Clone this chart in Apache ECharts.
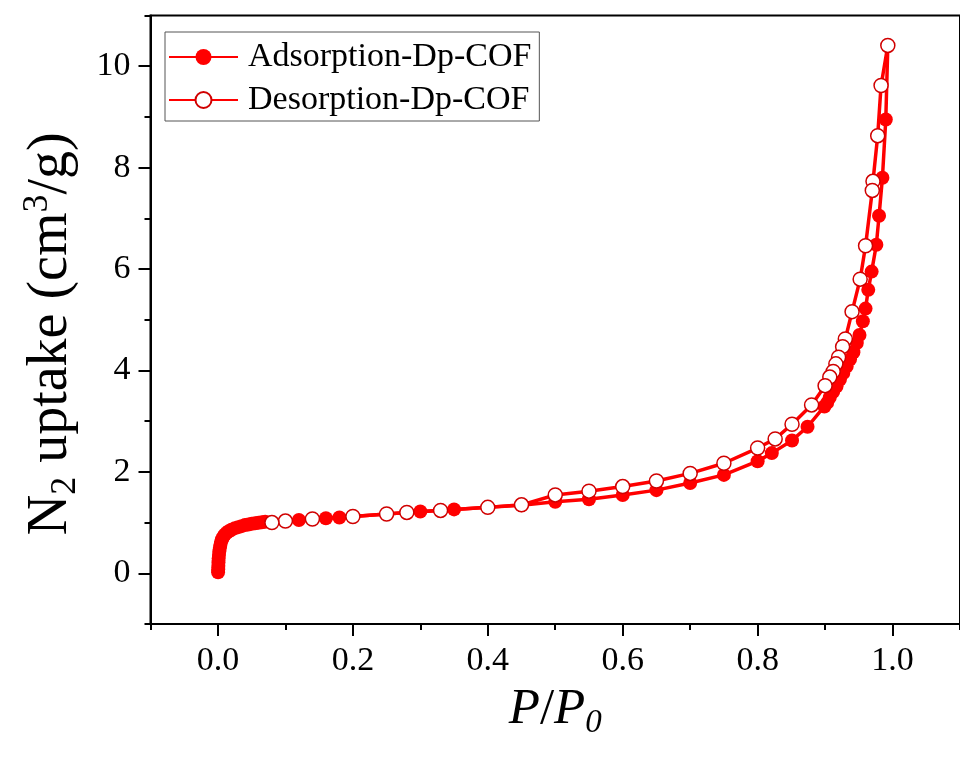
<!DOCTYPE html>
<html>
<head>
<meta charset="utf-8">
<script src="https://cdn.jsdelivr.net/npm/echarts@6/dist/echarts.min.js"></script>
<style>
html,body{margin:0;padding:0;background:#fff;}
#chart{width:960px;height:765px;}
</style>
</head>
<body>
<div id="chart"></div>
<script>
// ---- data ----
const adsX = [0.0002,0.0004,0.0006,0.0008,0.001,0.0015,0.002,0.0028,0.0036,0.0046,0.006,0.008,0.010,0.013,0.016,0.020,0.025,0.030,0.035,0.040,0.045,0.050,0.055,0.060,0.065,0.070,0.12,0.16,0.18,0.30,0.35,0.40,0.45,0.50,0.55,0.60,0.65,0.70,0.75,0.80,0.821,0.851,0.874,0.899,0.903,0.907,0.912,0.917,0.922,0.927,0.932,0.937,0.942,0.947,0.951,0.956,0.960,0.964,0.969,0.976,0.980,0.985,0.990,0.993];
const adsY = [0.02,0.08,0.15,0.22,0.29,0.36,0.43,0.50,0.56,0.62,0.67,0.72,0.76,0.80,0.83,0.86,0.89,0.91,0.93,0.95,0.96,0.975,0.985,0.995,1.005,1.015,1.05,1.085,1.10,1.22,1.26,1.30,1.34,1.41,1.46,1.545,1.64,1.78,1.94,2.21,2.37,2.62,2.89,3.29,3.36,3.47,3.58,3.69,3.82,3.95,4.08,4.22,4.36,4.54,4.70,4.97,5.22,5.59,5.95,6.48,7.05,7.80,8.95,10.41];
const desX = [0.993,0.983,0.978,0.971,0.970,0.960,0.952,0.940,0.930,0.926,0.920,0.916,0.912,0.907,0.900,0.880,0.851,0.826,0.800,0.750,0.700,0.650,0.600,0.550,0.500,0.450,0.400,0.330,0.280,0.250,0.200,0.140,0.100,0.080];
const desY = [10.41,9.62,8.63,7.73,7.55,6.46,5.80,5.16,4.62,4.47,4.26,4.13,3.98,3.87,3.70,3.32,2.94,2.65,2.47,2.17,1.97,1.82,1.71,1.62,1.545,1.35,1.30,1.24,1.20,1.17,1.12,1.07,1.03,1.00];
const seriesNames = ['Adsorption-Dp-COF','Desorption-Dp-COF'];
const xMajorTicks = [0,0.2,0.4,0.6,0.8,1.0];
const yMajorTicks = [0,2,4,6,8,10];

const FONT = 'Liberation Serif';
const chart = echarts.init(document.getElementById('chart'), null, {renderer:'canvas'});
const zip = (a,b) => a.map((v,i)=>[v,b[i]]);

const option = {
  animation:false,
  backgroundColor:'#fff',
  grid:{left:150.5, top:15.5, right:-12, bottom:141, show:true, borderColor:'#000', borderWidth:2, containLabel:false},
  legend:{
    left:165, top:32, orient:'vertical',
    backgroundColor:'#fff',
    borderColor:'#555', borderWidth:1,
    padding:[8,8,4,3],
    itemGap:9, itemWidth:69, itemHeight:20,
    textStyle:{fontFamily:FONT, fontSize:34, color:'#000', lineHeight:34, padding:[0,0,0,5]},
    data:seriesNames
  },
  xAxis:[
    {type:'value', min:-0.1, max:1.1, position:'bottom',
     name:'{i|P}{n|/}{i|P}{s|0}', nameLocation:'middle', nameGap:56,
     nameTextStyle:{rich:{
       i:{fontFamily:FONT, fontStyle:'italic', fontSize:51, lineHeight:60, color:'#000'},
       n:{fontFamily:FONT, fontSize:51, lineHeight:60, color:'#000'},
       s:{fontFamily:FONT, fontStyle:'italic', fontSize:33, lineHeight:22, verticalAlign:'bottom', color:'#000'}
     }},
     axisLine:{show:true, onZero:false, lineStyle:{color:'#000', width:2}},
     axisTick:{show:true, length:12, lineStyle:{color:'#000', width:2}, customValues:xMajorTicks},
     axisLabel:{fontFamily:FONT, fontSize:34, color:'#000', margin:20, customValues:xMajorTicks, formatter:v=>v.toFixed(1)},
     splitLine:{show:false}},
    {type:'value', min:-0.1, max:1.1, interval:0.1, position:'bottom',
     axisLine:{show:false, onZero:false},
     axisTick:{show:true, length:6, lineStyle:{color:'#000', width:2}},
     axisLabel:{show:false}, splitLine:{show:false}}
  ],
  yAxis:[
    {type:'value', min:-1, max:11, position:'left',
     name:'{n|N}{s|2}{n| uptake (cm}{p|3}{n|/g)}', nameLocation:'middle', nameGap:67, nameRotate:90,
     nameTextStyle:{padding:[0,28,0,0], rich:{
       n:{fontFamily:FONT, fontSize:56, lineHeight:64, color:'#000'},
       s:{fontFamily:FONT, fontSize:36, lineHeight:22, verticalAlign:'bottom', color:'#000'},
       p:{fontFamily:FONT, fontSize:36, lineHeight:22, verticalAlign:'top', color:'#000'}
     }},
     axisLine:{show:true, onZero:false, lineStyle:{color:'#000', width:2}},
     axisTick:{show:true, length:12, lineStyle:{color:'#000', width:2}, customValues:yMajorTicks},
     axisLabel:{fontFamily:FONT, fontSize:34, color:'#000', margin:20, customValues:yMajorTicks},
     splitLine:{show:false}},
    {type:'value', min:-1, max:11, interval:1, position:'left',
     axisLine:{show:false, onZero:false},
     axisTick:{show:true, length:6, lineStyle:{color:'#000', width:2}},
     axisLabel:{show:false}, splitLine:{show:false}}
  ],
  series:[
    {name:seriesNames[0], type:'line', xAxisIndex:0, yAxisIndex:0,
     data:zip(adsX,adsY), symbol:'circle', symbolSize:14,
     lineStyle:{color:'#ff0000', width:3.5},
     itemStyle:{color:'#ff0000', borderColor:'#ff0000', borderWidth:0},
     emphasis:{disabled:true}},
    {name:seriesNames[1], type:'line', xAxisIndex:0, yAxisIndex:0,
     data:zip(desX,desY), symbol:'circle', symbolSize:14,
     lineStyle:{color:'#ff0000', width:3.5},
     itemStyle:{color:'#ffffff', borderColor:'#d00000', borderWidth:1.5},
     emphasis:{disabled:true}}
  ]
};
chart.setOption(option);
</script>
</body>
</html>
